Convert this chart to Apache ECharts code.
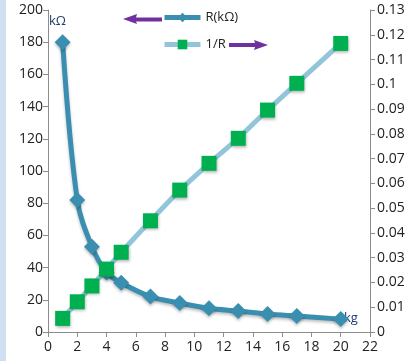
<!DOCTYPE html>
<html><head><meta charset="utf-8">
<script src="https://cdn.jsdelivr.net/npm/echarts@6/dist/echarts.min.js"></script>
<style>html,body{margin:0;padding:0;background:#fff}#c{width:415px;height:361px}</style>
</head><body><div id="c"></div>
<script>
const weights = [1, 2, 3, 4, 5, 7, 9, 11, 13, 15, 17, 20];
const resistance = [180, 82, 53, 37, 30.6, 22, 18, 14.7, 13, 11.2, 9.9, 8];
const inverseR = [0.0055, 0.0122, 0.0186, 0.0254, 0.0322, 0.0449, 0.0573, 0.0681, 0.0782, 0.0896, 0.1004, 0.1165];
const nameR = 'R(kΩ)';
const nameInv = '1/R';
const font = 'Open Sans';

const chart = echarts.init(document.getElementById('c'));
const axisLbl = {color: '#222', fontFamily: font, fontSize: 14};
const legendText = {fontFamily: font, fontSize: 13, color: '#222'};
chart.setOption({
  animation: false,
  grid: {left: 48, right: 45, top: 10, bottom: 29, containLabel: false},
  legend: [
    {data: [nameR], left: 162, top: 11, itemWidth: 36, itemHeight: 12, padding: 0,
     lineStyle: {width: 5}, textStyle: legendText},
    {data: [nameInv], left: 162, top: 38, itemWidth: 36, itemHeight: 12, padding: 0,
     lineStyle: {width: 5}, textStyle: legendText}
  ],
  xAxis: {type: 'value', min: 0, max: 22, interval: 2,
    axisLine: {show: true, lineStyle: {color: '#8c8c8c'}},
    axisTick: {show: true, length: 5, lineStyle: {color: '#8c8c8c'}},
    splitLine: {show: false},
    axisLabel: Object.assign({margin: 8}, axisLbl)},
  yAxis: [
    {type: 'value', min: 0, max: 200, interval: 20, position: 'left',
     axisLine: {show: true, lineStyle: {color: '#8c8c8c'}},
     axisTick: {show: true, length: 5, lineStyle: {color: '#8c8c8c'}},
     splitLine: {show: false},
     axisLabel: Object.assign({margin: 5}, axisLbl)},
    {type: 'value', min: 0, max: 0.13, interval: 0.01, position: 'right',
     axisLine: {show: true, lineStyle: {color: '#8c8c8c'}},
     axisTick: {show: true, length: 5, lineStyle: {color: '#8c8c8c'}},
     splitLine: {show: false},
     axisLabel: Object.assign({margin: 7, formatter: v => String(+v.toFixed(2))}, axisLbl)}
  ],
  series: [
    {name: nameR, type: 'line', yAxisIndex: 0, smooth: 0.35,
     data: weights.map((w, i) => [w, resistance[i]]),
     symbol: 'diamond', symbolSize: 16,
     lineStyle: {color: '#3a8fb0', width: 5, shadowColor: 'rgba(0,0,0,0.25)', shadowBlur: 3, shadowOffsetY: 2},
     itemStyle: {color: '#3a8fb0', shadowColor: 'rgba(0,0,0,0.25)', shadowBlur: 3, shadowOffsetY: 2}},
    {name: nameInv, type: 'line', yAxisIndex: 1,
     data: weights.map((w, i) => [w, inverseR[i]]),
     symbol: 'rect', symbolSize: 15,
     lineStyle: {color: '#93c5da', width: 5},
     itemStyle: {color: '#00b050', shadowColor: 'rgba(0,0,0,0.3)', shadowBlur: 3, shadowOffsetY: 2, shadowOffsetX: 1}}
  ],
  graphic: [
    {type: 'rect', shape: {x: 0, y: 0, width: 6, height: 361}, style: {fill: '#cfe0f0'}, silent: true},
    {type: 'polygon', shape: {points: [[123,19],[137,14],[136,17.5],[162,17.5],[162,21.5],[136,21.5],[137,24]]}, style: {fill: '#7030a0'}},
    {type: 'polygon', shape: {points: [[268,45],[254,40],[255,43],[229,43],[229,47],[255,47],[254,50]]}, style: {fill: '#7030a0'}},
    {type: 'text', left: 49, top: 15, style: {text: 'kΩ', fill: '#1f3c6e', font: '13px "Open Sans"'}},
    {type: 'text', left: 344, top: 312, style: {text: 'kg', fill: '#1f3c6e', font: '13px "Open Sans"'}}
  ]
});
</script></body></html>
